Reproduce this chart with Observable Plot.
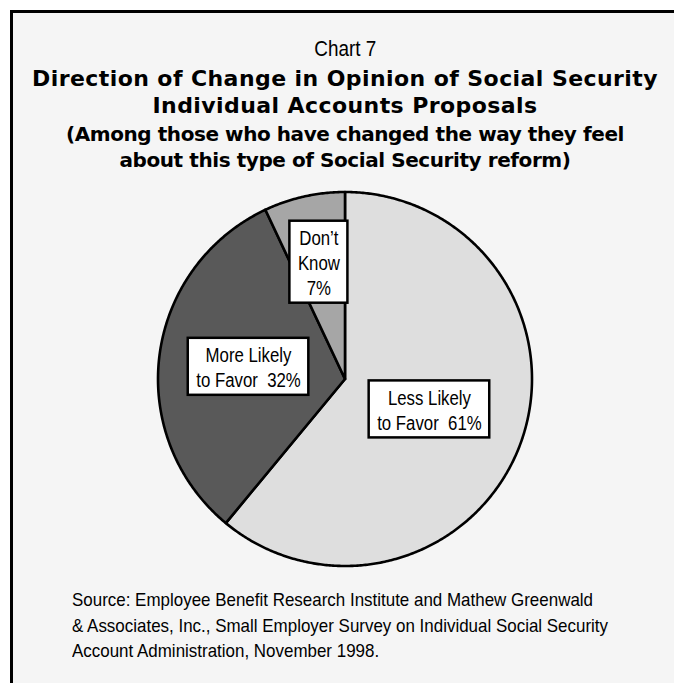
<!DOCTYPE html>
<html><head><meta charset="utf-8">
<script src="https://cdn.jsdelivr.net/npm/d3@7"></script>
<script src="https://cdn.jsdelivr.net/npm/@observablehq/plot@0.6"></script>
<style>
html,body{margin:0;padding:0;background:#fff;width:674px;height:683px;overflow:hidden;}
#frame{position:absolute;left:10px;top:10px;width:700px;height:700px;border-left:3px solid #000;border-top:3px solid #000;background:#f5f5f5;}
.line{position:absolute;left:0;width:690px;text-align:center;white-space:pre;color:#000;}
.narrow{font-family:"Liberation Sans",Arial,sans-serif;}
.bold{font-family:"DejaVu Sans",sans-serif;font-weight:bold;}
.line span{display:inline-block;transform-origin:50% 50%;}
#source{position:absolute;left:72px;top:587px;font-size:19px;line-height:25.5px;white-space:pre;color:#000;transform-origin:0 0;}
#chart{position:absolute;left:0;top:180px;}
</style></head><body>
<div id="frame"></div>
<div id="titles"></div>
<div id="source" class="narrow"></div>
<div id="chart"></div>
<script>
// ---- data ----
const categories = ["Less Likely to Favor", "More Likely to Favor", "Don't Know"];
const values = [61, 32, 7];
const labelNames = ["Less Likely\nto Favor", "More Likely\nto Favor", "Don\u2019t\nKnow"];
const labelSeparators = ["  ", "  ", "\n"];
const colors = ["#dedede", "#595959", "#a6a6a6"];
const titleLines = [
  "Chart 7",
  "Direction of Change in Opinion of Social Security",
  "Individual Accounts Proposals",
  "(Among those who have changed the way they feel",
  "about this type of Social Security reform)"
];
const sourceLines = [
  "Source: Employee Benefit Research Institute and Mathew Greenwald",
  "& Associates, Inc., Small Employer Survey on Individual Social Security",
  "Account Administration, November 1998."
];

// ---- layout ----
const narrowFont = '"Liberation Sans",Arial,sans-serif';
const boldFont = '"DejaVu Sans",sans-serif';
const titleStyle = [
  {center: 50.3, size: 21.5, cls: "narrow", fit: 62},
  {center: 78.7, size: 22, cls: "bold", fit: 626},
  {center: 106, size: 22, cls: "bold", fit: "prev"},
  {center: 134, size: 20, cls: "bold", fit: 558},
  {center: 160, size: 20, cls: "bold", fit: "prev"}
];
const labelRadius = [0.48, 0.52, 0.64];
const sourceWidth = 521;

const ctx = document.createElement("canvas").getContext("2d");
const titles = document.getElementById("titles");
let lastSpacing = 0;
titleLines.forEach((t, i) => {
  const s = titleStyle[i];
  const L = s.size * 1.2;
  const el = document.createElement("div");
  el.className = "line " + s.cls;
  el.style.fontSize = s.size + "px";
  el.style.lineHeight = L + "px";
  el.style.top = (s.center - L / 2) + "px";
  const span = document.createElement("span");
  span.textContent = t;
  el.appendChild(span);
  if (s.cls === "narrow") {
    ctx.font = `${s.size}px ${narrowFont}`;
    span.style.transform = `scaleX(${s.fit / ctx.measureText(t).width})`;
  } else if (s.fit === "prev") {
    span.style.letterSpacing = lastSpacing + "px";
  } else {
    ctx.font = `bold ${s.size}px ${boldFont}`;
    const w = ctx.measureText(t).width;
    lastSpacing = (s.fit - w) / t.length;
    span.style.letterSpacing = lastSpacing + "px";
  }
  titles.appendChild(el);
});
const src = document.getElementById("source");
src.textContent = sourceLines.join("\n");
ctx.font = `19px ${narrowFont}`;
src.style.transform = `scaleX(${sourceWidth / ctx.measureText(sourceLines[0]).width})`;

// ---- pie geometry from data ----
const data = categories.map((c, i) => ({cat: c, value: values[i], label: labelNames[i] + labelSeparators[i] + values[i] + "%", r: labelRadius[i]}));
const arcs = d3.pie().sort(null).value(d => d.value)(data);
const pts = [];
for (const a of arcs) {
  const n = Math.max(2, Math.ceil((a.endAngle - a.startAngle) / (Math.PI / 360)));
  pts.push({k: a.data.cat, x: 0, y: 0});
  for (let i = 0; i <= n; i++) {
    const t = a.startAngle + (a.endAngle - a.startAngle) * i / n;
    pts.push({k: a.data.cat, x: Math.sin(t), y: Math.cos(t)});
  }
  pts.push({k: a.data.cat, x: 0, y: 0});
}
const labels = arcs.map(a => {
  const m = (a.startAngle + a.endAngle) / 2;
  return {text: a.data.label, x: a.data.r * Math.sin(m), y: a.data.r * Math.cos(m)};
});

const fontSize = 21, lineH = 25, padX = 8, padY = 3.5, squeeze = 0.8;
const boxes = (index, scales) => {
  const g = d3.create("svg:g");
  ctx.font = `${fontSize}px ${narrowFont}`;
  for (const d of labels) {
    const lines = d.text.split("\n");
    const w = d3.max(lines, l => ctx.measureText(l).width) * squeeze + 2 * padX;
    const h = lines.length * lineH + 2 * padY;
    g.append("rect")
      .attr("x", scales.x(d.x) - w / 2).attr("y", scales.y(d.y) - h / 2)
      .attr("width", w).attr("height", h)
      .attr("fill", "#fff").attr("stroke", "#000").attr("stroke-width", 2.5);
  }
  return g.node();
};

const chart = Plot.plot({
  width: 674, height: 400, margin: 0,
  x: {domain: [-1, 1], range: [157.5, 531.5], axis: null},
  y: {domain: [-1, 1], range: [385.5, 11.5], axis: null},
  color: {domain: categories, range: colors},
  style: {background: "transparent", overflow: "visible"},
  marks: [
    Plot.line(pts, {x: "x", y: "y", z: "k", fill: "k", stroke: "#000", strokeWidth: 2.6, strokeLinejoin: "round", curve: "linear"}),
    boxes,
    Plot.text(labels, {x: "x", y: "y", text: "text", fontSize: fontSize, lineHeight: lineH / fontSize, fontFamily: narrowFont, fill: "#000"})
  ]
});
// condense label glyphs horizontally (narrow typeface look)
d3.select(chart).selectAll('g[aria-label="text"] text').each(function() {
  const tr = this.getAttribute("transform");
  if (tr) {
    this.setAttribute("transform", tr + ` scale(${squeeze},1)`);
  } else {
    const x = +this.getAttribute("x") || 0, y = +this.getAttribute("y") || 0;
    this.removeAttribute("x"); this.removeAttribute("y");
    this.setAttribute("transform", `translate(${x},${y}) scale(${squeeze},1)`);
  }
});
document.getElementById("chart").appendChild(chart);
</script>
</body></html>
